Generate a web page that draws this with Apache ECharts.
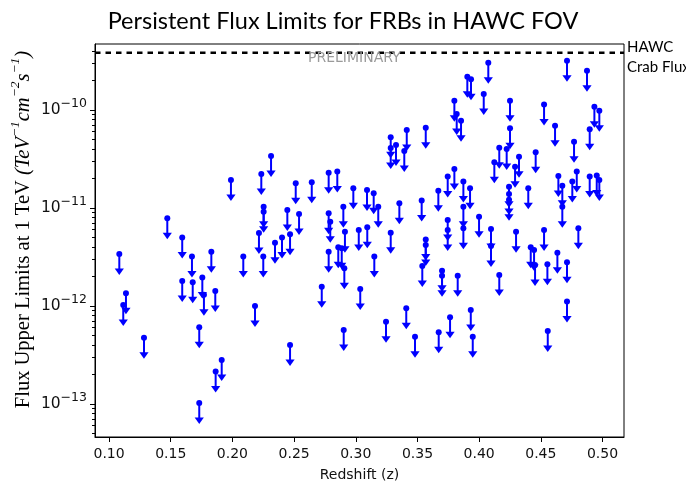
<!DOCTYPE html>
<html>
<head>
<meta charset="utf-8">
<script src="https://cdn.jsdelivr.net/npm/echarts@6/dist/echarts.min.js"></script>
<style>html,body{margin:0;padding:0;background:#fff;}#c{width:686px;height:489px;}</style>
</head>
<body>
<div id="c"></div>
<script>
const redshift = [
0.2313,0.2234,0.1988,0.2253,0.2253,0.2215,0.1472,0.1593,0.1083,0.1672,
0.1829,0.2088,0.2250,0.1593,0.1678,0.1756,0.1769,0.1861,0.1137,0.1115,
0.2183,0.1283,0.1731,0.1913,0.1864,0.1731,0.3413,0.3567,0.3283,0.3283,
0.3326,0.3393,0.2513,0.2643,0.2780,0.2850,0.2980,0.3091,0.3145,0.3182,
0.2899,0.3353,0.3534,0.3669,0.3745,0.2445,0.2540,0.2780,0.2793,0.2402,
0.2467,0.2912,0.3024,0.3093,0.3283,0.3567,0.3745,0.3745,0.2345,0.3567,
0.3539,0.2780,0.2858,0.2886,0.2907,0.3150,0.3699,0.3699,0.2724,0.3036,
0.3409,0.3245,0.2902,0.3480,0.3672,0.3764,0.2467,0.4074,0.4712,0.4874,
0.3904,0.3934,0.4037,0.3799,0.3818,0.3853,0.4250,0.4526,0.4615,0.4934,
0.4974,0.4896,0.4250,0.4769,0.4163,0.4223,0.4458,0.4123,0.4323,0.4291,
0.3799,0.3872,0.3926,0.4242,0.4242,0.4242,0.4398,0.4642,0.4674,0.4755,
0.4791,0.4896,0.4953,0.4974,0.4674,0.3872,0.3999,0.4096,0.4299,0.4526,
0.4804,0.3872,0.4096,0.4418,0.4445,0.4453,0.4553,0.4634,0.4712,0.3826,
0.4163,0.4712,0.3932,0.3948,0.4556
];
const fluxLimit = [
3.39e-11,2.22e-11,1.93e-11,1.03e-11,9.17e-12,5.56e-12,7.85e-12,5.0e-12,3.39e-12,3.19e-12,
3.58e-12,3.19e-12,3.19e-12,1.80e-12,1.75e-12,1.95e-12,1.30e-12,1.42e-12,1.35e-12,1.02e-12,
1.00e-12,4.75e-13,6.06e-13,2.81e-13,2.14e-13,1.02e-13,6.25e-11,6.60e-11,5.27e-11,4.10e-11,
4.39e-11,3.82e-11,1.79e-11,1.83e-11,2.29e-11,2.35e-11,1.59e-11,1.53e-11,1.41e-11,1.03e-11,
1.03e-11,1.12e-11,1.19e-11,1.50e-11,2.09e-11,9.54e-12,8.69e-12,8.83e-12,7.25e-12,5.0e-12,
5.39e-12,5.73e-12,5.97e-12,6.36e-12,5.60e-12,4.77e-12,7.54e-12,5.97e-12,4.43e-12,4.19e-12,
2.56e-12,3.58e-12,3.97e-12,3.88e-12,2.43e-12,3.19e-12,2.29e-12,2.04e-12,1.57e-12,1.49e-12,
9.47e-13,6.92e-13,5.69e-13,4.86e-13,5.39e-13,7.67e-13,4.00e-13,3.04e-10,3.19e-10,2.52e-10,
2.19e-10,2.06e-10,1.46e-10,1.24e-10,9.10e-11,7.78e-11,1.24e-10,1.14e-10,6.92e-11,1.08e-10,
9.84e-11,6.36e-11,6.51e-11,4.75e-11,4.12e-11,4.00e-11,3.70e-11,2.93e-11,3.34e-11,2.64e-11,
2.50e-11,1.86e-11,1.59e-11,1.65e-11,1.39e-11,1.21e-11,1.59e-11,2.12e-11,1.69e-11,1.86e-11,
2.35e-11,2.09e-11,2.14e-11,1.93e-11,1.03e-11,1.03e-11,8.15e-12,6.11e-12,5.73e-12,5.97e-12,
6.21e-12,6.21e-12,4.10e-12,3.97e-12,3.73e-12,2.62e-12,2.66e-12,3.50e-12,2.79e-12,2.04e-12,
2.07e-12,1.11e-12,9.10e-13,4.86e-13,5.56e-13
];
const crabFlux = 3.84e-10;
const xTicks = [0.10,0.15,0.20,0.25,0.30,0.35,0.40,0.45,0.50];
const yMajorTicks = [1e-13,1e-12,1e-11,1e-10];
const yMinorTicks = [5e-14,6e-14,7e-14,8e-14,9e-14,
  2e-13,3e-13,4e-13,5e-13,6e-13,7e-13,8e-13,9e-13,
  2e-12,3e-12,4e-12,5e-12,6e-12,7e-12,8e-12,9e-12,
  2e-11,3e-11,4e-11,5e-11,6e-11,7e-11,8e-11,9e-11,
  2e-10,3e-10,4e-10];
const xMin = 0.0886, xMax = 0.5174, yMin = 4.6e-14, yMax = 4.715e-10;

function powLabel(v){
  const e = Math.round(Math.log10(v));
  if (Math.abs(Math.log10(v) - e) > 1e-6) return '';
  return '{b|10}{s|' + String(e).replace('-', '\u2212') + '}';
}

const chart = echarts.init(document.getElementById('c'), null, {renderer:'canvas'});
const points = redshift.map((z,i)=>[z, fluxLimit[i]]);
chart.setOption({
  backgroundColor:'#fff',
  animation:false,
  title:{
    text:'Persistent Flux Limits for FRBs in HAWC FOV',
    left:'center', top:4,
    textStyle:{fontFamily:'Lato', fontSize:23.5, fontWeight:'normal', color:'#000'}
  },
  grid:{left:95, right:62, top:44, bottom:52, show:true, borderColor:'#000', borderWidth:1,
        containLabel:false, outerBoundsMode:'none'},
  xAxis:{
    type:'value', min:xMin, max:xMax,
    axisLine:{show:true, onZero:false, lineStyle:{color:'#000', width:1}},
    axisTick:{show:true, customValues:xTicks, length:5, lineStyle:{color:'#000', width:1}},
    axisLabel:{customValues:xTicks, formatter:v=>v.toFixed(2), fontFamily:'DejaVu Sans', fontSize:14, color:'#111', margin:10},
    splitLine:{show:false},
    name:'Redshift (z)', nameLocation:'middle', nameGap:31, nameMoveOverlap:false,
    nameTextStyle:{fontFamily:'DejaVu Sans', fontSize:14, color:'#111'}
  },
  yAxis:[{
    type:'log', logBase:10, min:yMin, max:yMax,
    axisLine:{show:true, lineStyle:{color:'#000', width:1}},
    axisTick:{show:true, customValues:yMajorTicks, length:5, lineStyle:{color:'#000', width:1}},
    axisLabel:{customValues:yMajorTicks, formatter:powLabel, margin:8, color:'#111',
      rich:{
        b:{fontFamily:'DejaVu Sans', fontSize:15.5, lineHeight:17, padding:[4.5,0,4.5,0], color:'#111'},
        s:{fontFamily:'DejaVu Sans', fontSize:12.5, lineHeight:14, padding:[0,0,12,0], color:'#111'}
      }},
    splitLine:{show:false},
    name:'{p| }{n|Flux Upper Limits at 1 TeV }{i|(TeV}{s|\u22121}{i|cm}{s|\u22122}{i|s}{s|\u22121}{i|)}',
    nameLocation:'middle', nameGap:60, nameRotate:90, nameMoveOverlap:false,
    nameTextStyle:{
      rich:{
        p:{width:22, fontSize:12},
        n:{fontFamily:'Liberation Serif', fontSize:20.5, lineHeight:22, padding:[5,0,5,0], color:'#000'},
        i:{fontFamily:'Liberation Serif', fontStyle:'italic', fontSize:20.5, lineHeight:22, padding:[5,0,5,0], color:'#000'},
        s:{fontFamily:'Liberation Serif', fontStyle:'italic', fontSize:13.5, lineHeight:15, padding:[0,0,17,0], color:'#000'}
      }
    }
  },{
    type:'log', logBase:10, min:yMin, max:yMax, position:'left',
    axisLine:{show:false},
    axisTick:{show:true, customValues:yMinorTicks, length:3, lineStyle:{color:'#000', width:1}},
    axisLabel:{show:false}, splitLine:{show:false}
  }],
  graphic:[
    {type:'text', left:627, top:40, z:100, style:{text:'HAWC', font:'15px Lato', fill:'#000'}},
    {type:'text', left:627, top:60, z:100, style:{text:'Crab Flux', font:'15px Lato', fill:'#000'}},
    {type:'text', left:308, top:51, z:100, style:{text:'PRELIMINARY', font:'14px "DejaVu Sans"', fill:'#9a9a9a'}}
  ],
  series:[{
    type:'line',
    yAxisIndex:0,
    data:[[xMin, crabFlux],[xMax, crabFlux]],
    symbol:'none', silent:true, z:1,
    lineStyle:{type:[5.5,5], color:'#000', width:2.3}
  },{
    type:'custom',
    yAxisIndex:0,
    data:points,
    clip:false, z:3,
    renderItem:function(params, api){
      const p = api.coord([api.value(0), api.value(1)]);
      const c = '#0000ff';
      return {type:'group', children:[
        {type:'line', shape:{x1:p[0], y1:p[1], x2:p[0], y2:p[1]+15.5}, style:{stroke:c, lineWidth:2}},
        {type:'polygon', shape:{points:[[p[0]-4.6,p[1]+14.5],[p[0]+4.6,p[1]+14.5],[p[0],p[1]+21]]}, style:{fill:c}},
        {type:'circle', shape:{cx:p[0], cy:p[1], r:3}, style:{fill:c}}
      ]};
    }
  }]
});
</script>
</body>
</html>
